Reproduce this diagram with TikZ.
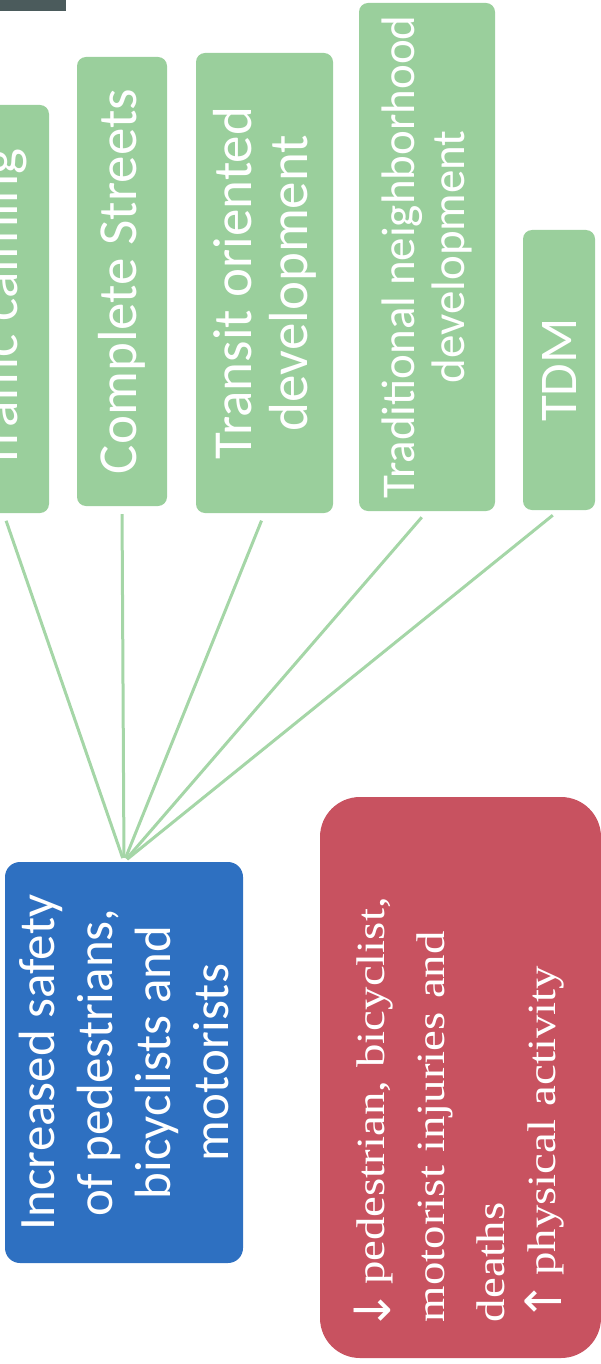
\documentclass[tikz,border=0pt]{standalone}
\usepackage{fontspec}
\newfontfamily\calib{Carlito}
\newfontfamily\serifr[FakeStretch=1.17]{Liberation Serif}
\newfontfamily\arrowf{DejaVu Sans}
\newcommand{\dnarrow}{\kern-9pt\smash{\raisebox{-6pt}{\arrowf\fontsize{50}{60}\selectfont ↓}}\kern-9pt}
\newcommand{\uparrowsym}{\kern-9pt\smash{\raisebox{-6pt}{\arrowf\fontsize{50}{60}\selectfont ↑}}\kern-9pt}
\definecolor{gfill}{RGB}{154,207,156}
\definecolor{bfill}{RGB}{46,112,193}
\definecolor{rfill}{RGB}{200,82,96}
\definecolor{darkbox}{RGB}{75,91,92}
\definecolor{lgreen}{RGB}{165,214,167}
\begin{document}
\begin{tikzpicture}[x=1pt,y=1pt,
  gbox/.style={rectangle, rounded corners=9pt, fill=gfill, text=white, rotate=90,
    inner sep=1pt, align=center, font=\calib\fontsize{55}{56}\selectfont},
  bbox/.style={rectangle, rounded corners=15pt, fill=bfill, text=white, rotate=90,
    inner sep=1pt, align=center, font=\calib\fontsize{51}{58}\selectfont},
  rbox/.style={rectangle, rounded corners=40pt, fill=rfill, text=white, rotate=90,
    inner xsep=36pt, inner ysep=1pt, align=left, font=\serifr\fontsize{40}{60}\selectfont},
  conn/.style={draw=lgreen, line width=3pt, shorten <=4pt, shorten >=8pt}]
\useasboundingbox (0,0) rectangle (601,-1364);
\fill[darkbox] (0,0) rectangle (66,-11);
\node[gbox, minimum width=408pt, minimum height=91pt] (tc) at (3.5,-309) {Traffic calming};
\node[gbox, minimum width=449pt, minimum height=90pt] (cs) at (122,-281.5) {Complete Streets};
\node[gbox, minimum width=460pt, minimum height=137pt] (tod) at (264.5,-283) {Transit oriented\\development};
\node[gbox, minimum width=508pt, minimum height=136pt, font=\calib\fontsize{47}{50}\selectfont] (tnd) at (427,-257) {Traditional neighborhood\\development};
\node[gbox, minimum width=280pt, minimum height=72pt, font=\calib\fontsize{53}{56}\selectfont] (tdm) at (559,-370) {TDM};
\node[bbox, minimum width=401pt, minimum height=238pt] (safe) at (124,-1062.5) {Increased safety\\of pedestrians,\\bicyclists and\\motorists};
\node[rbox, text width=489pt, minimum width=561pt, minimum height=281pt] (out) at (460.5,-1077.5) {\dnarrow{} pedestrian, bicyclist,\\motorist injuries and\\deaths\\\uparrowsym{} physical activity};
\draw[conn] (safe.east) -- (tc.west);
\draw[conn] (safe.east) -- (cs.west);
\draw[conn] (safe.east) -- (tod.west);
\draw[conn] (safe.east) -- (tnd.west);
\draw[conn] (safe.east) -- (tdm.west);
\end{tikzpicture}
\end{document}
